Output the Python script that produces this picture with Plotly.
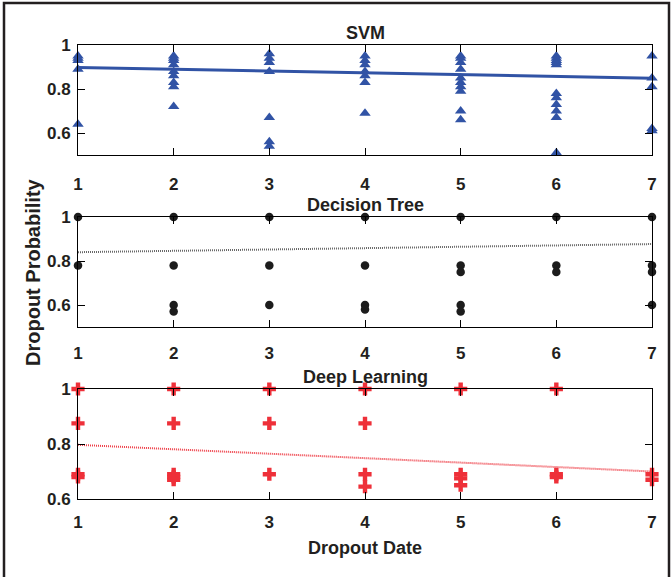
import plotly.graph_objects as go

# ---------------- data ----------------
dates = [1, 2, 3, 4, 5, 6, 7]

svm_probs = {
    1: [0.95, 0.94, 0.93, 0.89, 0.64],
    2: [0.95, 0.94, 0.93, 0.91, 0.88, 0.86, 0.83, 0.81, 0.72],
    3: [0.96, 0.94, 0.92, 0.88, 0.67, 0.56, 0.54],
    4: [0.95, 0.93, 0.91, 0.88, 0.86, 0.83, 0.69],
    5: [0.95, 0.94, 0.92, 0.89, 0.85, 0.83, 0.81, 0.79, 0.70, 0.66],
    6: [0.95, 0.94, 0.93, 0.92, 0.91, 0.78, 0.76, 0.73, 0.70, 0.67, 0.51],
    7: [0.95, 0.85, 0.81, 0.62, 0.61],
}
tree_probs = {
    1: [1.0, 0.78],
    2: [1.0, 0.78, 0.60, 0.57],
    3: [1.0, 0.78, 0.60],
    4: [1.0, 0.78, 0.60, 0.58],
    5: [1.0, 0.78, 0.75, 0.60, 0.57],
    6: [1.0, 0.78, 0.75],
    7: [1.0, 0.78, 0.75, 0.60],
}
deep_probs = {
    1: [1.0, 0.875, 0.69, 0.68],
    2: [1.0, 0.875, 0.69, 0.68, 0.67],
    3: [1.0, 0.875, 0.69],
    4: [1.0, 0.875, 0.69, 0.645],
    5: [1.0, 0.69, 0.675, 0.65],
    6: [1.0, 0.69, 0.68],
    7: [0.69, 0.67],
}
trend_x = [1, 7]
svm_trend = [0.898, 0.849]
tree_trend = [0.840, 0.877]
deep_trend = [0.797, 0.700]

titles = ["SVM", "Decision Tree", "Deep Learning"]
y_tickvals = [0.6, 0.8, 1.0]
y_ticktext = ["0.6", "0.8", "1"]
x_title = "Dropout Date"
y_title = "Dropout Probability"

# ---------------- styling ----------------
BLUE = "#3153a5"
BLACK = "#1c1c1c"
RED = "#ee3039"
FONT = "Liberation Sans, Arial, sans-serif"
TXT = "#231f20"


def flatten(d):
    xs, ys = [], []
    for k, vals in d.items():
        for v in vals:
            xs.append(k)
            ys.append(v)
    return xs, ys


fig = go.Figure()

panels = [
    (svm_probs, svm_trend, BLUE, "triangle-up", 10, dict(color=BLUE, width=3)),
    (tree_probs, tree_trend, BLACK, "circle", 8.5,
     dict(color="rgba(40,40,40,0.7)", width=2, dash="1px,1px")),
    (deep_probs, deep_trend, RED, "cross", 11,
     dict(color="rgba(236,40,50,0.9)", width=2, dash="1px,1px")),
]

for i, (d, tr, col, sym, sz, lstyle) in enumerate(panels):
    ax = "" if i == 0 else str(i + 1)
    xs, ys = flatten(d)
    fig.add_trace(go.Scatter(
        x=trend_x, y=tr, mode="lines", line=lstyle,
        xaxis="x" + ax, yaxis="y" + ax, showlegend=False, hoverinfo="skip",
        cliponaxis=False))
    fig.add_trace(go.Scatter(
        x=xs, y=ys, mode="markers",
        marker=dict(symbol=sym, size=sz, color=col, line=dict(width=0)),
        xaxis="x" + ax, yaxis="y" + ax, showlegend=False, cliponaxis=False))

# plot area: x 78..652 px, y 45..499 px
domains = [[344 / 454, 1.0], [172 / 454, 282 / 454], [0.0, 110 / 454]]
yranges = [[0.5, 1.0], [0.5, 1.0], [0.6, 1.0]]
standoffs = [14, 11, 8]

tickfont = dict(family=FONT, size=17, color=TXT, weight="bold")
common = dict(showline=True, linecolor="black", linewidth=1, mirror="ticks",
              ticks="inside", ticklen=7, tickcolor="black", tickwidth=1,
              showgrid=False, zeroline=False, tickfont=tickfont)

layout = dict(
    width=671, height=577,
    margin=dict(l=78, r=19, t=45, b=78),
    paper_bgcolor="white", plot_bgcolor="white",
    showlegend=False,
)
for i in range(3):
    ax = "" if i == 0 else str(i + 1)
    layout["xaxis" + ax] = dict(
        domain=[0, 1], anchor="y" + ax, range=[1, 7],
        tickvals=dates, ticktext=[str(v) for v in dates],
        ticklabelstandoff=standoffs[i], **common)
    layout["yaxis" + ax] = dict(
        domain=domains[i], anchor="x" + ax, range=yranges[i],
        tickvals=y_tickvals, ticktext=y_ticktext, ticklabelstandoff=3, **common)

fig.update_layout(**layout)

ann_font = dict(family=FONT, size=18, color=TXT, weight="bold")
for i, t in enumerate(titles):
    fig.add_annotation(text=t, xref="paper", yref="paper", x=0.5,
                       y=domains[i][1], xanchor="center", yanchor="middle",
                       yshift=12, showarrow=False, font=ann_font)

fig.add_annotation(text=x_title, xref="paper", yref="paper", x=0.5,
                   y=(499 - 548) / 454, xanchor="center", yanchor="middle",
                   showarrow=False, font=ann_font)
fig.add_annotation(text=y_title, xref="paper", yref="paper",
                   x=(33 - 78) / 574, y=0.5, xanchor="center", yanchor="middle",
                   textangle=-90, showarrow=False,
                   font=dict(family=FONT, size=20, color=TXT, weight="bold"))

# outer frame (left, top, right)
fx0, fx1 = (4 - 78) / 574, (669 - 78) / 574
fy1, fy0 = (499 - 3) / 454, (499 - 590) / 454
fig.add_shape(type="rect", xref="paper", yref="paper",
              x0=fx0, x1=fx1, y0=fy0, y1=fy1,
              line=dict(color="#231f20", width=2.5), fillcolor="rgba(0,0,0,0)")

fig.write_html("out.html",
               config={"displayModeBar": False},
               post_script="document.body.style.margin='0';"
                           "document.body.style.overflow='hidden';")
